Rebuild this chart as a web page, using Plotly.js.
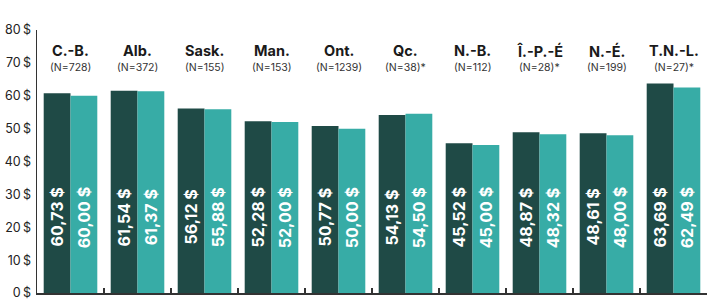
<!DOCTYPE html>
<html>
<head>
<meta charset="utf-8">
<script src="https://cdn.plot.ly/plotly-3.0.1.min.js"></script>
<style>html,body{margin:0;padding:0;background:#fff}#chart{width:710px;height:300px}</style>
</head>
<body>
<div id="chart"></div>
<script>
const categories = ["C.-B.", "Alb.", "Sask.", "Man.", "Ont.", "Qc.", "N.-B.", "Î.-P.-É", "N.-É.", "T.N.-L."];
const sampleSizes = ["(N=728)", "(N=372)", "(N=155)", "(N=153)", "(N=1239)", "(N=38)*", "(N=112)", "(N=28)*", "(N=199)", "(N=27)*"];
const seriesDark = [60.73, 61.54, 56.12, 52.28, 50.77, 54.13, 45.52, 48.87, 48.61, 63.69];
const seriesLight = [60.00, 61.37, 55.88, 52.00, 50.00, 54.50, 45.00, 48.32, 48.00, 62.49];
const yTicks = [0, 10, 20, 30, 40, 50, 60, 70, 80];
const yTickText = yTicks.map(v => v + '\u2009$');

const fmt = v => v.toFixed(2).replace('.', ',') + ' $';
const FONT = 'Inter, "Noto Sans", sans-serif';
const DARK = '#1f4a46', LIGHT = '#37aca6';

const traces = [
  {type: 'bar', x: categories, y: seriesDark, marker: {color: DARK}, hoverinfo: 'none'},
  {type: 'bar', x: categories, y: seriesLight, marker: {color: LIGHT}, hoverinfo: 'none'}
];

const annotations = [];
const barShift = 13.4;
const labelY = 23;
categories.forEach((c, i) => {
  annotations.push({x: c, xref: 'x', y: 0.921, yref: 'paper', text: '<b>' + c + '</b>', showarrow: false,
    font: {family: FONT, size: 14.5, color: '#1a1a1a'}, xanchor: 'center', yanchor: 'middle'});
  annotations.push({x: c, xref: 'x', y: 0.857, yref: 'paper', text: sampleSizes[i], showarrow: false,
    font: {family: FONT, size: 10.5, color: '#333'}, xanchor: 'center', yanchor: 'middle'});
  annotations.push({x: c, xref: 'x', y: labelY, yref: 'y', text: '<b>' + fmt(seriesDark[i]) + '</b>', textangle: -90,
    showarrow: false, xshift: -barShift, font: {family: FONT, size: 16, color: '#fff'}, xanchor: 'center', yanchor: 'middle'});
  annotations.push({x: c, xref: 'x', y: labelY, yref: 'y', text: '<b>' + fmt(seriesLight[i]) + '</b>', textangle: -90,
    showarrow: false, xshift: barShift, font: {family: FONT, size: 16, color: '#fff'}, xanchor: 'center', yanchor: 'middle'});
});

const layout = {
  width: 710, height: 300,
  margin: {l: 37, r: 3, t: 30, b: 7},
  paper_bgcolor: '#fff', plot_bgcolor: '#fff',
  barmode: 'group', bargap: 0.2, bargroupgap: 0,
  showlegend: false,
  font: {family: FONT, color: '#222'},
  xaxis: {type: 'category', showticklabels: false, showgrid: false, zeroline: false,
    showline: true, linecolor: '#333', linewidth: 1.5,
    ticks: 'inside', tickson: 'boundaries', ticklen: 5, tickcolor: '#333', tickwidth: 1.2},
  yaxis: {range: [0, 80], tickmode: 'array', tickvals: yTicks, ticktext: yTickText, showgrid: false, zeroline: false,
    showline: true, linecolor: '#333', linewidth: 1.5, ticks: '', ticklabelstandoff: 2,
    ticklabeloverflow: 'allow',
    tickfont: {family: FONT, size: 12.5, color: '#222'}},
  annotations: annotations
};

Plotly.newPlot('chart', traces, layout, {displayModeBar: false, staticPlot: true});
</script>
</body>
</html>
